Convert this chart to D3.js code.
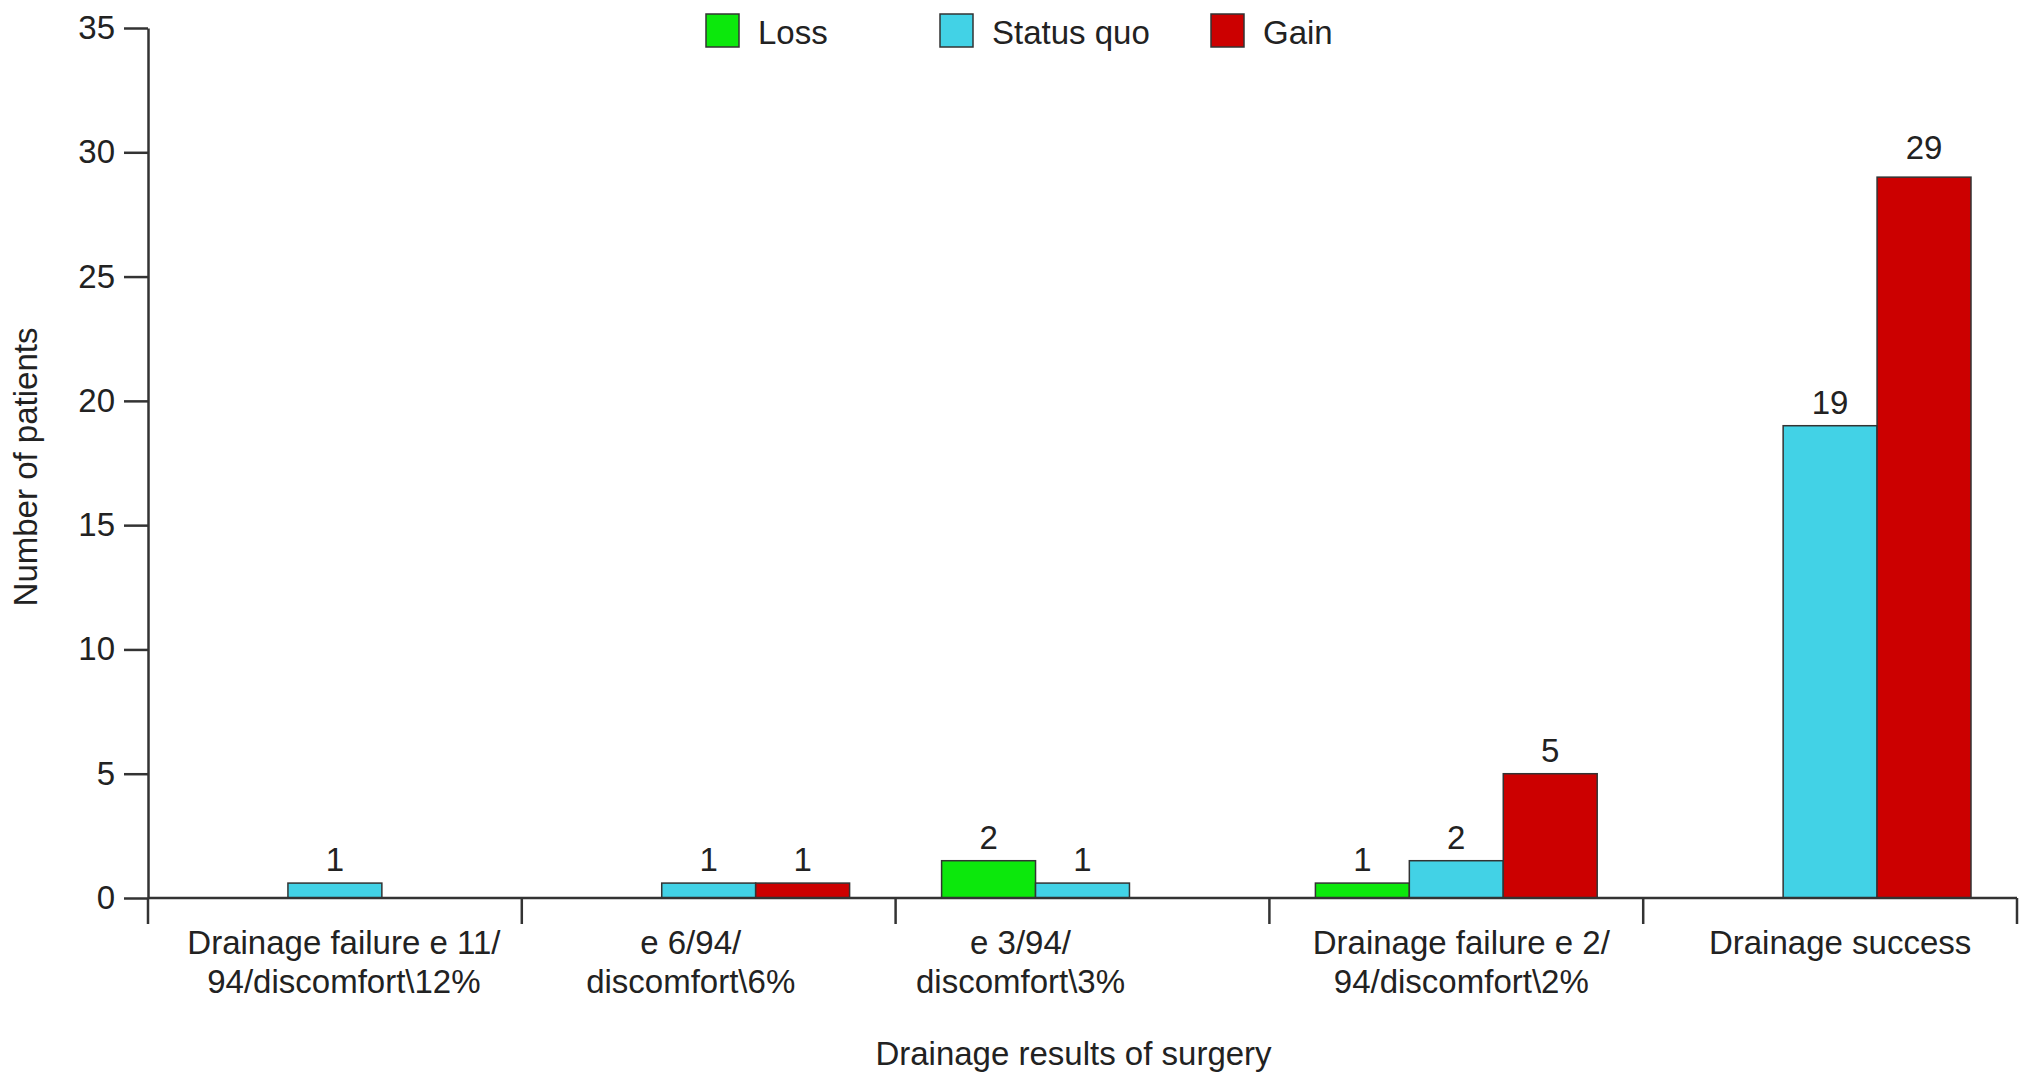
<!DOCTYPE html>
<html>
<head>
<meta charset="utf-8">
<script src="https://cdn.jsdelivr.net/npm/d3@7"></script>
<style>
  body { margin: 0; background: #fff; }
  text { font-family: "Liberation Sans", Arial, Helvetica, sans-serif; fill: #222; }
</style>
</head>
<body>
<div id="chart"></div>
<script>
// categories (two-line tick labels)
const categories = ["c1", "c2", "c3", "c4", "c5"];
const categoryLines = [
  ["Drainage failure e 11/", "94/discomfort\\12%"],
  ["e 6/94/", "discomfort\\6%"],
  ["e 3/94/", "discomfort\\3%"],
  ["Drainage failure e 2/", "94/discomfort\\2%"],
  ["Drainage success"]
];
const seriesNames = ["Loss", "Status quo", "Gain"];
const seriesColors = ["#0ce80c", "#42d2e6", "#cc0000"];

// bar heights as drawn against the axis
const lossHeights = [0, 0, 1.5, 0.6, 0];
const statusHeights = [0.6, 0.6, 0.6, 1.5, 19];
const gainHeights = [0, 0.6, 0, 5, 29];
// counts printed above the bars (null = no bar)
const lossLabels = [null, null, 2, 1, null];
const statusLabels = [1, 1, 1, 2, 19];
const gainLabels = [null, 1, null, 5, 29];

const yTicks = [0, 5, 10, 15, 20, 25, 30, 35];

const width = 2032, height = 1083;
const margin = { top: 28, right: 15, bottom: 185, left: 148 };
const innerW = width - margin.left - margin.right;
const innerH = height - margin.top - margin.bottom;
const fontSize = "33px";
// the category labels in the original are not quite centred under their groups
const catLabelShift = [9, -18, -62, 5, 10];

const svg = d3.select("#chart")
  .append("svg")
  .attr("width", width)
  .attr("height", height);

const g = svg.append("g")
  .attr("transform", `translate(${margin.left},${margin.top})`);

const x0 = d3.scaleBand()
  .domain(categories)
  .range([0, innerW])
  .padding(0);

const x1 = d3.scaleBand()
  .domain(seriesNames)
  .range([46, x0.bandwidth() - 46])
  .padding(0);

const y = d3.scaleLinear()
  .domain([0, 35])
  .range([innerH, 0]);

const heights = [lossHeights, statusHeights, gainHeights];
const labels = [lossLabels, statusLabels, gainLabels];

const bars = [];
categories.forEach((c, i) => {
  seriesNames.forEach((s, j) => {
    if (labels[j][i] !== null) {
      bars.push({ cat: c, series: s, idx: j, h: heights[j][i], label: labels[j][i] });
    }
  });
});

// bars
g.selectAll(".bar")
  .data(bars)
  .enter().append("rect")
  .attr("class", "bar")
  .attr("x", d => x0(d.cat) + x1(d.series))
  .attr("y", d => y(d.h))
  .attr("width", x1.bandwidth())
  .attr("height", d => innerH - y(d.h))
  .attr("fill", d => seriesColors[d.idx])
  .attr("stroke", "#333")
  .attr("stroke-width", 1.5);

// value labels
g.selectAll(".val")
  .data(bars)
  .enter().append("text")
  .attr("class", "val")
  .attr("x", d => x0(d.cat) + x1(d.series) + x1.bandwidth() / 2)
  .attr("y", d => y(d.h) - (d.h > 25 ? 18 : 12))
  .attr("text-anchor", "middle")
  .style("font-size", fontSize)
  .text(d => d.label);

// Y axis
const yAxis = g.append("g")
  .call(d3.axisLeft(y).tickValues(yTicks).tickSize(24).tickPadding(9).tickSizeOuter(0));
yAxis.select(".domain").attr("stroke", "#333").attr("stroke-width", 2.5);
yAxis.selectAll(".tick line").attr("stroke", "#333").attr("stroke-width", 2.5);
yAxis.selectAll(".tick text")
  .style("font-size", fontSize)
  .style("font-family", "'Liberation Sans', Arial, sans-serif")
  .attr("fill", "#222");

// X axis line with ticks at category boundaries
g.append("line")
  .attr("x1", 0).attr("x2", innerW)
  .attr("y1", innerH).attr("y2", innerH)
  .attr("stroke", "#333").attr("stroke-width", 2.5);

const bounds = categories.map(c => x0(c)).concat([innerW]);
g.selectAll(".xtick")
  .data(bounds)
  .enter().append("line")
  .attr("x1", d => d).attr("x2", d => d)
  .attr("y1", innerH).attr("y2", innerH + 26)
  .attr("stroke", "#333").attr("stroke-width", 2.5);

// category labels
const catText = g.selectAll(".cat")
  .data(categories)
  .enter().append("text")
  .attr("class", "cat")
  .attr("text-anchor", "middle")
  .style("font-size", fontSize);
catText.each(function(c, i) {
  const t = d3.select(this);
  categoryLines[i].forEach((line, k) => {
    t.append("tspan")
      .attr("x", x0(c) + x0.bandwidth() / 2 + catLabelShift[i])
      .attr("y", innerH + 56 + k * 39)
      .text(line);
  });
});

// axis titles
g.append("text")
  .attr("x", innerW / 2 - 9)
  .attr("y", innerH + 167)
  .attr("text-anchor", "middle")
  .style("font-size", fontSize)
  .text("Drainage results of surgery");

g.append("text")
  .attr("transform", `translate(${-margin.left + 37},${innerH / 2 + 4}) rotate(-90)`)
  .attr("text-anchor", "middle")
  .style("font-size", fontSize)
  .text("Number of patients");

// legend
const legendX = [706, 940, 1211];
const legend = svg.selectAll(".legend")
  .data(seriesNames)
  .enter().append("g")
  .attr("class", "legend")
  .attr("transform", (d, i) => `translate(${legendX[i]},14)`);
legend.append("rect")
  .attr("width", 33).attr("height", 33)
  .attr("fill", (d, i) => seriesColors[i])
  .attr("stroke", "#333").attr("stroke-width", 1.5);
legend.append("text")
  .attr("x", 52).attr("y", 30)
  .style("font-size", fontSize)
  .text(d => d);
</script>
</body>
</html>
